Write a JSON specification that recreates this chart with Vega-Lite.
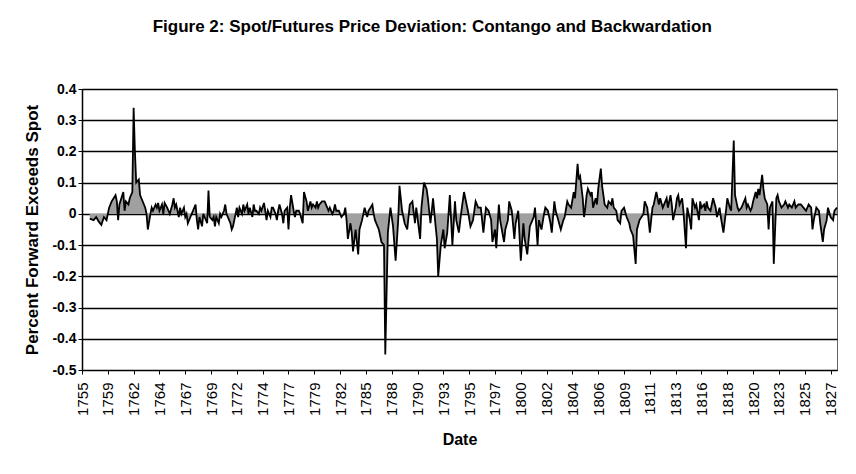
{
  "$schema": "https://vega.github.io/schema/vega-lite/v6.json",
  "width": 755,
  "height": 281,
  "autosize": {"type": "none"},
  "padding": {"left": 82, "top": 89, "right": 19, "bottom": 104},
  "background": "white",
  "title": {
    "text": "Figure 2:  Spot/Futures Price Deviation:  Contango and Backwardation",
    "font": "Liberation Sans",
    "fontSize": 17,
    "fontWeight": "bold",
    "color": "black",
    "anchor": "middle",
    "frame": "bounds",
    "offset": 46
  },
  "config": {
    "font": "Liberation Sans",
    "view": {"stroke": "#666666", "strokeWidth": 1}
  },
  "data": {
    "values": [
      {"n":6,"v":-0.015},{"n":9,"v":-0.02},{"n":11,"v":-0.01},{"n":13,"v":-0.025},{"n":15,"v":-0.035},{"n":17,"v":-0.01},{"n":19,"v":-0.02},{"n":21,"v":0.02},{"n":23,"v":0.04},{"n":26,"v":0.06},{"n":27,"v":0.04},{"n":28,"v":-0.02},{"n":29,"v":0.03},{"n":32,"v":0.07},{"n":33,"v":0.01},{"n":34,"v":0.04},{"n":36,"v":0.03},{"n":37,"v":0.05},{"n":39,"v":0.07},{"n":40,"v":0.34},{"n":41,"v":0.2},{"n":42,"v":0.1},{"n":44,"v":0.11},{"n":45,"v":0.06},{"n":46,"v":0.05},{"n":48,"v":0.03},{"n":49,"v":0.02},{"n":50,"v":0},{"n":51,"v":-0.05},{"n":53,"v":0},{"n":54,"v":0.02},{"n":55,"v":0.01},{"n":57,"v":0.03},{"n":58,"v":0.02},{"n":59,"v":0.035},{"n":60,"v":0.01},{"n":62,"v":0.03},{"n":63,"v":0},{"n":64,"v":0.035},{"n":66,"v":0.02},{"n":67,"v":0.01},{"n":68,"v":0},{"n":70,"v":0.03},{"n":71,"v":0.05},{"n":72,"v":0.02},{"n":73,"v":0.03},{"n":75,"v":-0.01},{"n":76,"v":0.02},{"n":77,"v":0},{"n":79,"v":0.02},{"n":80,"v":-0.01},{"n":81,"v":0},{"n":82,"v":-0.03},{"n":84,"v":-0.01},{"n":85,"v":0},{"n":86,"v":0.01},{"n":88,"v":0.03},{"n":89,"v":-0.02},{"n":90,"v":-0.05},{"n":91,"v":-0.01},{"n":93,"v":-0.04},{"n":94,"v":0},{"n":95,"v":-0.01},{"n":97,"v":-0.03},{"n":98,"v":0.075},{"n":99,"v":-0.01},{"n":101,"v":-0.02},{"n":102,"v":-0.01},{"n":103,"v":-0.04},{"n":104,"v":-0.01},{"n":106,"v":-0.03},{"n":107,"v":0},{"n":108,"v":-0.01},{"n":110,"v":0.01},{"n":111,"v":0.03},{"n":112,"v":0},{"n":113,"v":-0.01},{"n":115,"v":-0.03},{"n":116,"v":-0.05},{"n":117,"v":-0.04},{"n":119,"v":0},{"n":120,"v":0.02},{"n":121,"v":-0.01},{"n":122,"v":0.02},{"n":124,"v":0},{"n":125,"v":0.03},{"n":126,"v":0.01},{"n":128,"v":0.03},{"n":129,"v":0},{"n":130,"v":0.02},{"n":132,"v":-0.01},{"n":133,"v":0.03},{"n":134,"v":0.01},{"n":135,"v":0.01},{"n":137,"v":0},{"n":138,"v":0.02},{"n":139,"v":0.01},{"n":141,"v":0.035},{"n":142,"v":0.01},
      {"n":143,"v":-0.02},{"n":144,"v":0.01},{"n":146,"v":-0.01},{"n":147,"v":0.02},{"n":148,"v":0.02},{"n":150,"v":0},{"n":151,"v":-0.02},{"n":152,"v":0.01},{"n":153,"v":0.03},{"n":155,"v":0},{"n":156,"v":-0.03},{"n":157,"v":0.01},{"n":159,"v":0.02},{"n":160,"v":-0.05},{"n":161,"v":0.02},{"n":162,"v":0.06},{"n":164,"v":0.01},{"n":165,"v":-0.01},{"n":166,"v":0.01},{"n":168,"v":0.01},{"n":169,"v":0},{"n":171,"v":-0.03},{"n":172,"v":0.07},{"n":174,"v":0.04},{"n":175,"v":0.01},{"n":177,"v":0.04},{"n":178,"v":0.02},{"n":179,"v":0.03},{"n":181,"v":0.02},{"n":182,"v":0.04},{"n":183,"v":0.02},{"n":184,"v":0.03},{"n":186,"v":0.04},{"n":188,"v":0.04},{"n":190,"v":0.02},{"n":191,"v":0.01},{"n":192,"v":0.02},{"n":194,"v":0},{"n":195,"v":0.01},{"n":196,"v":0.03},{"n":197,"v":0.01},{"n":199,"v":0.01},{"n":200,"v":0},{"n":201,"v":-0.01},{"n":203,"v":0},{"n":204,"v":0.02},{"n":205,"v":-0.02},{"n":206,"v":-0.08},{"n":208,"v":-0.03},{"n":209,"v":-0.06},{"n":210,"v":-0.12},{"n":212,"v":-0.05},{"n":214,"v":-0.13},{"n":215,"v":-0.05},{"n":217,"v":-0.02},{"n":219,"v":0.02},{"n":221,"v":-0.01},{"n":222,"v":0.01},{"n":225,"v":0.03},{"n":226,"v":0},{"n":227,"v":-0.02},{"n":230,"v":-0.05},{"n":232,"v":-0.09},{"n":234,"v":-0.1},{"n":235,"v":-0.45},{"n":237,"v":-0.06},{"n":239,"v":0.02},{"n":241,"v":-0.04},{"n":243,"v":-0.15},{"n":245,"v":-0.02},{"n":246,"v":0.09},{"n":248,"v":0.01},{"n":250,"v":-0.03},{"n":252,"v":-0.05},{"n":254,"v":0.03},{"n":256,"v":0.04},{"n":258,"v":-0.03},{"n":259,"v":0.02},{"n":262,"v":-0.08},{"n":263,"v":0.02},{"n":265,"v":0.1},{"n":267,"v":0.08},{"n":268,"v":0.05},{"n":270,"v":-0.03},{"n":272,"v":0.05},{"n":274,"v":-0.04},{"n":275,"v":-0.08},{"n":276,"v":-0.2},{"n":278,"v":-0.1},{"n":280,"v":-0.05},{"n":281,"v":-0.11},{"n":283,"v":-0.06},{"n":285,"v":0.06},{"n":287,"v":-0.1},{"n":289,"v":0.04},{"n":290,"v":-0.02},{"n":292,"v":-0.06},{"n":294,"v":0.01},{"n":296,"v":0.07},{"n":298,"v":0.03},{"n":299,"v":0.01},{"n":301,"v":-0.04},{"n":303,"v":-0.02},{"n":305,"v":0.04},{"n":307,"v":0.02},{"n":309,"v":0.02},{"n":311,"v":-0.06},{"n":313,"v":0.02},{"n":315,"v":0.01},{"n":317,"v":-0.02},{"n":318,"v":-0.09},{"n":320,"v":-0.05},{"n":321,"v":-0.11},{"n":323,"v":0.03},{"n":324,"v":-0.02},{"n":327,"v":-0.09},{"n":328,"v":-0.05},{"n":330,"v":-0.02},{"n":331,"v":0.04},{"n":333,"v":0.01},{"n":335,"v":-0.08},{"n":336,"v":-0.03},{"n":338,"v":0.01},{"n":340,"v":-0.15},{"n":342,"v":-0.03},{"n":343,"v":-0.08},{"n":345,"v":-0.13},{"n":347,"v":-0.04},{"n":349,"v":-0.02},{"n":350,"v":-0.01},{"n":351,"v":0.02},{"n":353,"v":-0.1},{"n":354,"v":-0.02},{"n":356,"v":-0.05},{"n":358,"v":0},{"n":359,"v":0.02},{"n":361,"v":0.01},{"n":363,"v":-0.03},{"n":364,"v":-0.06},{"n":366,"v":0.04},{"n":367,"v":0.01},{"n":369,"v":-0.02},{"n":371,"v":-0.05},{"n":373,"v":-0.02},{"n":374,"v":-0.01},{"n":376,"v":0.04},{"n":377,"v":0.03},{"n":379,"v":0.02},{"n":381,"v":0.07},{"n":382,"v":0.05},{"n":384,"v":0.16},{"n":385,"v":0.11},{"n":386,"v":0.12},{"n":388,"v":0.05},{"n":389,"v":-0.01},{"n":390,"v":0.02},{"n":391,"v":0.06},{"n":392,"v":0.08},{"n":394,"v":0.06},{"n":395,"v":0.07},{"n":396,"v":0.02},{"n":398,"v":0.05},{"n":399,"v":0.03},{"n":400,"v":0.08},{"n":402,"v":0.145},{"n":403,"v":0.09},{"n":404,"v":0.06},{"n":405,"v":0.03},{"n":407,"v":0.02},{"n":408,"v":0.04},{"n":410,"v":0.03},{"n":411,"v":0.05},{"n":412,"v":0.02},{"n":414,"v":0.01},{"n":415,"v":-0.02},{"n":417,"v":-0.03},{"n":418,"v":0.01},{"n":420,"v":0.02},{"n":422,"v":-0.01},{"n":424,"v":-0.03},{"n":425,"v":-0.05},{"n":427,"v":-0.07},{"n":429,"v":-0.16},{"n":430,"v":-0.05},{"n":432,"v":-0.02},{"n":435,"v":0},{"n":436,"v":0.04},{"n":438,"v":0.02},{"n":440,"v":-0.06},{"n":442,"v":0.02},{"n":443,"v":0.03},{"n":445,"v":0.07},{"n":447,"v":0.03},{"n":448,"v":0.05},{"n":450,"v":0.02},{"n":452,"v":0.04},{"n":453,"v":0.05},{"n":454,"v":0.02},{"n":456,"v":0.06},{"n":457,"v":0.03},{"n":458,"v":-0.02},{"n":460,"v":0.02},{"n":461,"v":0.05},{"n":462,"v":0.06},{"n":463,"v":0.03},{"n":465,"v":0.05},{"n":466,"v":0.01},{"n":468,"v":-0.11},{"n":469,"v":0.02},{"n":471,"v":-0.02},{"n":472,"v":-0.05},{"n":473,"v":0.05},{"n":475,"v":0.02},{"n":476,"v":0.03},{"n":478,"v":-0.02},{"n":479,"v":0.04},{"n":480,"v":0.02},{"n":482,"v":0.03},{"n":483,"v":0.01},{"n":484,"v":0.04},{"n":485,"v":0.02},{"n":487,"v":0.01},{"n":488,"v":0.03},{"n":489,"v":0.05},{"n":491,"v":0.02},{"n":492,"v":-0.01},{"n":494,"v":0.02},{"n":495,"v":-0.01},{"n":497,"v":-0.06},{"n":499,"v":0.01},{"n":500,"v":0.05},{"n":502,"v":0.02},{"n":503,"v":0.01},{"n":505,"v":0.235},{"n":506,"v":0.06},{"n":507,"v":0.04},{"n":508,"v":0.02},{"n":509,"v":0.01},{"n":511,"v":0.02},{"n":513,"v":0.04},{"n":514,"v":0.05},{"n":515,"v":0.02},{"n":516,"v":0.03},{"n":518,"v":0.01},{"n":519,"v":0.02},{"n":520,"v":0.04},{"n":522,"v":0.07},{"n":523,"v":0.05},{"n":524,"v":0.08},{"n":525,"v":0.06},{"n":527,"v":0.125},{"n":528,"v":0.08},{"n":529,"v":0.05},{"n":531,"v":0.03},{"n":532,"v":-0.05},{"n":533,"v":0.02},{"n":535,"v":0.04},{"n":536,"v":-0.16},{"n":538,"v":0.05},{"n":539,"v":0.06},{"n":540,"v":0.04},{"n":542,"v":0.02},{"n":544,"v":0.03},{"n":545,"v":0.04},{"n":547,"v":0.02},{"n":548,"v":0.03},{"n":550,"v":0.02},{"n":552,"v":0.04},{"n":553,"v":0.02},{"n":555,"v":0.03},{"n":557,"v":0.03},{"n":559,"v":0.02},{"n":561,"v":0.01},{"n":563,"v":0.03},{"n":565,"v":0.02},{"n":566,"v":-0.05},{"n":567,"v":-0.02},{"n":569,"v":0.02},{"n":571,"v":0.01},{"n":572,"v":-0.03},{"n":574,"v":-0.09},{"n":575,"v":-0.05},{"n":577,"v":-0.02},{"n":578,"v":0.02},{"n":580,"v":-0.01},{"n":582,"v":-0.02},{"n":583,"v":0.01},{"n":585,"v":0.02}
    ]
  },
  "encoding": {
    "x": {
      "field": "n",
      "type": "quantitative",
      "scale": {"domain": [0, 585], "nice": false, "zero": false},
      "axis": {
        "title": "Date",
        "titleFont": "Liberation Sans",
        "titleFontSize": 16,
        "titleFontWeight": "bold",
        "titleColor": "black",
        "titlePadding": 16,
        "values": [0,20,40,60,80,100,120,140,160,180,200,220,240,260,280,300,320,340,360,380,400,420,440,460,480,500,520,540,560,580],
        "labelExpr": "['1755','1759','1762','1764','1767','1769','1772','1774','1777','1779','1782','1785','1788','1790','1793','1795','1797','1800','1802','1804','1806','1809','1811','1813','1816','1818','1820','1823','1825','1827'][round(datum.value/20)]",
        "labelAngle": -90,
        "labelFontSize": 15,
        "labelColor": "black",
        "labelPadding": 8,
        "labelOverlap": false,
        "labelFlush": false,
        "grid": false,
        "tickSize": 4,
        "tickColor": "black",
        "domainColor": "black",
        "domainWidth": 1
      }
    },
    "y": {
      "field": "v",
      "type": "quantitative",
      "scale": {"domain": [-0.5, 0.4], "nice": false},
      "axis": {
        "title": "Percent Forward Exceeds Spot",
        "titleFont": "Liberation Sans",
        "titleFontSize": 17,
        "titleFontWeight": "bold",
        "titleColor": "black",
        "titlePadding": 10,
        "values": [-0.5,-0.4,-0.3,-0.2,-0.1,0,0.1,0.2,0.3,0.4],
        "labelExpr": "datum.value == 0 ? '0' : toString(round(datum.value*10)/10)",
        "labelFontSize": 14,
        "labelFontWeight": "bold",
        "labelColor": "black",
        "labelPadding": 2,
        "grid": true,
        "gridColor": "black",
        "gridWidth": 1.5,
        "tickSize": 4,
        "tickColor": "black",
        "domainColor": "black",
        "domainWidth": 1.5
      }
    }
  },
  "layer": [
    {"mark": {"type": "area", "color": "#a0a0a0", "opacity": 1}},
    {"mark": {"type": "line", "color": "black", "strokeWidth": 1.8}}
  ]
}
